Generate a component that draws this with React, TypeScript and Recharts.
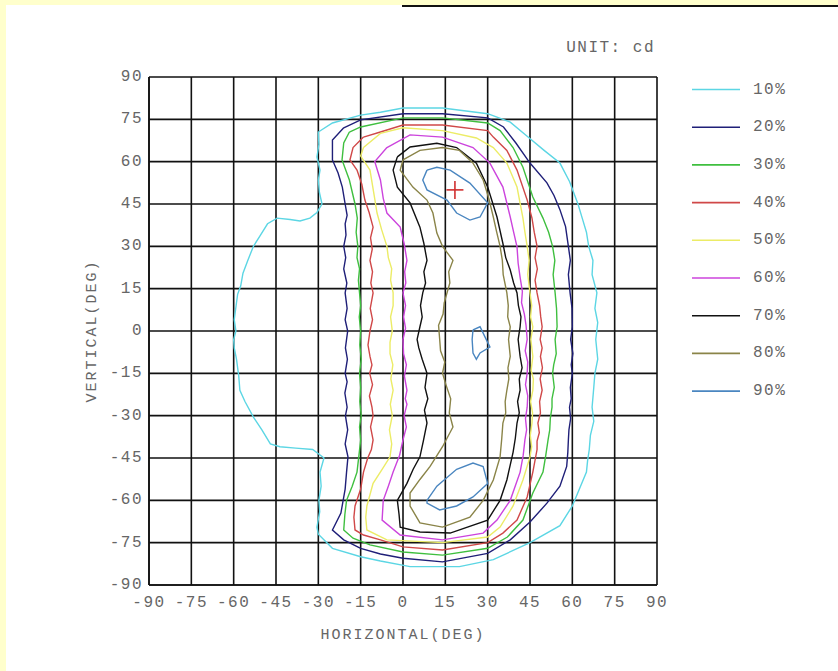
import React from 'react';
import { LineChart, Line, XAxis, YAxis, CartesianGrid, ReferenceDot } from 'recharts';

const TICKS = [-90, -75, -60, -45, -30, -15, 0, 15, 30, 45, 60, 75, 90];
const LEVELS = ['10%', '20%', '30%', '40%', '50%', '60%', '70%', '80%', '90%'];
const COLORS = ['#5cd6e4', '#1f1f78', '#3fbf3f', '#d04848', '#ecec66', '#cc44dd', '#111111', '#8a8448', '#4a86c0'];

// isocandela contours, [horizontal deg, vertical deg]
const c10 = [
  [-30, 70.5], [-25, 73.7], [-15, 76.5], [-8, 77.5], [0, 79], [14, 79], [30, 77], [38, 74], [44, 69], [50, 64],
  [55.6, 59.5], [59, 53], [62, 45], [63.5, 40], [65, 35], [65.8, 30], [67.3, 25], [67, 20], [68.7, 13.5], [68, 8],
  [69, 3], [68.3, -3], [69, -10], [68, -15], [67.6, -20], [67, -27], [67.6, -32], [66.4, -37], [66, -42],
  [65.4, -46], [65, -50], [62.5, -56], [60, -62], [55.6, -69], [45, -75], [32, -81], [20, -83.5], [2.5, -83.5],
  [-8, -81.5], [-15, -80], [-25, -77], [-30, -72], [-30.5, -69.5], [-29.5, -64], [-29.8, -60], [-29, -55],
  [-29.4, -50], [-28, -45], [-32, -42], [-38, -41.5], [-43.6, -41], [-47, -40], [-50, -35], [-53, -30.5],
  [-56, -25], [-57.8, -21], [-58.2, -16], [-59, -10], [-59.8, -6], [-60, -3], [-59.2, 0], [-59.8, 4], [-59, 10],
  [-58.6, 13], [-57.5, 16], [-56.7, 20.5], [-55, 25], [-53, 30], [-50.5, 34], [-48, 38], [-44.6, 40], [-40, 39.5],
  [-36.5, 39], [-33, 40], [-30.5, 42], [-28.7, 45], [-29.6, 49], [-30, 53.5], [-29.4, 57], [-30.5, 61.7],
  [-29.8, 66], [-30, 70.5],
];
const c20 = [
  [-21, 72], [-15, 74.8], [0, 77], [14, 77], [30, 75.5], [35.6, 72.3], [40, 66.6], [45, 59.5], [51, 52.5],
  [53.5, 48], [55.6, 43], [57.6, 37], [58.6, 30], [59.3, 25], [58.6, 20], [59.2, 13.5], [59.9, 8], [60, 1.5],
  [59.4, -3], [60.2, -8], [59.6, -12], [60, -15], [59.3, -20], [59.6, -24], [59, -27], [59.4, -31], [58.8, -35],
  [58.6, -38.6], [58.4, -43], [58, -48], [55.6, -55], [51, -61], [45, -67.7], [38, -74], [30, -78.8], [14, -81.8],
  [0, -80.5], [-8, -79], [-15, -77], [-21, -74], [-25, -70.5], [-22, -64.5], [-20.5, -56], [-20, -50],
  [-19.5, -44.6], [-20.5, -40], [-19.6, -35], [-20.4, -30], [-19.8, -27], [-20.6, -22], [-19.8, -18],
  [-20.5, -15], [-19.7, -10], [-20.4, -6], [-20, -3], [-19.6, 0], [-20.5, 4], [-19.8, 8], [-20.5, 13.5],
  [-19.9, 17], [-21, 22], [-20.3, 26], [-21, 30], [-20.2, 34], [-20.5, 38], [-19.8, 41], [-20.5, 45], [-21.5, 51],
  [-23, 56], [-25, 60.6], [-25, 67.7], [-21, 72],
];
const c30 = [
  [-19, 70.5], [-15, 72.3], [0, 75.5], [14, 75.5], [30, 73.7], [34.4, 71], [39, 65], [42.5, 58], [46, 47.5],
  [49.6, 40], [51.6, 35], [53, 30], [53.8, 25], [53.2, 20], [53.9, 13.5], [54.4, 8], [54.6, 1.5], [53.9, -3],
  [54.3, -8], [53.4, -12], [53, -15], [53.6, -20], [52.8, -24], [52.8, -27], [52.2, -31], [52, -35], [51.4, -38.6],
  [50.6, -44], [49.6, -50], [46, -57.4], [42.5, -67], [37, -73], [30, -77], [14, -79.4], [0, -78.3],
  [-11.7, -75.8], [-17.7, -73.4], [-21, -70.5], [-20.6, -65], [-20, -60], [-18, -55], [-16.3, -50], [-15.6, -44],
  [-15, -38.6], [-15.4, -34], [-14.8, -30], [-15.3, -25], [-15, -20], [-15.4, -15], [-14.8, -10], [-15.3, -5],
  [-15, 0], [-15.5, 5], [-15, 9], [-15.4, 13.5], [-15.8, 18], [-15.4, 22], [-16.3, 26], [-16, 30], [-16.6, 35],
  [-16.2, 40], [-17, 45], [-19, 53.5], [-21.6, 60.6], [-21, 66.6], [-19, 70.5],
];
const c40 = [
  [-14, 68.7], [-8, 70.5], [0, 73], [14, 73], [30, 71], [32, 68.7], [36.8, 64], [40.4, 57], [44, 46.4],
  [45.7, 40], [46.5, 35], [47.5, 30], [46.8, 26], [47.6, 22], [46.8, 18], [47.5, 13.5], [48.4, 9], [48.8, 5],
  [49.3, 1.5], [48.6, -3], [49.3, -6], [48.7, -9], [49.4, -13], [48.6, -17], [49.3, -21], [48.4, -25],
  [48.7, -29], [47.8, -32.6], [48.3, -36], [47.5, -39], [47.5, -42], [46, -50], [44, -58.8], [40.4, -67],
  [35.4, -71.6], [30, -75], [14, -77.6], [0, -76.5], [-8, -74], [-14, -72.3], [-17, -70.5], [-17.4, -66],
  [-17, -62], [-15, -56], [-14, -50], [-12.5, -45], [-11.2, -42], [-10.6, -38.6], [-11.5, -34], [-10.6, -30],
  [-11, -27], [-11.9, -23], [-10.8, -19], [-11.8, -15], [-11, -12], [-11.7, -9], [-12.4, -5], [-11.7, 0],
  [-10.8, 4], [-11.6, 8], [-10.6, 13.5], [-11.4, 17], [-10.8, 21], [-11.7, 25], [-10.9, 29], [-11.5, 33],
  [-10.6, 36.8], [-12, 42], [-13.5, 46.4], [-14.6, 52], [-16.3, 57], [-18.8, 60.6], [-17.7, 65], [-14, 68.7],
];
const c50 = [
  [-14, 65], [-8, 70], [0, 72], [14, 71], [26, 68.4], [32, 65], [36.8, 59.5], [40.4, 51], [42.5, 40], [43.2, 35],
  [44, 30], [44.7, 25], [44.2, 20], [45, 13.5], [45.6, 9], [45.2, 5], [46, 1.5], [45.3, -3], [46, -9], [45.4, -14],
  [46.2, -17], [46, -21], [45.2, -25], [45.9, -29], [45.7, -32.6], [45.1, -37], [45.6, -41], [45, -44.6],
  [42.5, -52.8], [39, -62], [34.4, -69.5], [30, -73], [14, -75], [-5.7, -74], [-12.8, -70.5], [-13.2, -66],
  [-12.8, -62], [-10.6, -54], [-7.4, -49], [-4.6, -44.6], [-4, -40], [-4.8, -35], [-3.8, -30], [-4.5, -26],
  [-3.5, -21], [-4.3, -17], [-3.6, -12], [-4.6, -8], [-4.6, -4], [-3.8, 0], [-4.4, 5], [-3.5, 9], [-3.5, 13.5],
  [-4.4, 18], [-4, 22], [-5.2, 26], [-5.7, 30], [-7.6, 36], [-9.2, 41.8], [-10.2, 48], [-11.7, 57], [-15, 62],
  [-14, 65],
];
const c60 = [
  [-5.7, 65], [2.5, 69.5], [14, 68.7], [24.8, 65], [30.8, 59.5], [35.4, 51], [38, 40.4], [39.2, 35], [40.4, 29.8],
  [40.8, 24], [41.5, 19], [42.3, 14], [42, 10], [43, 6], [43.6, 2], [44, -3], [43.3, -7], [44.2, -11], [44, -15],
  [43.4, -19], [44.2, -23], [44, -27], [43.4, -31], [43.8, -35], [43.2, -38.6], [42.6, -44], [41.5, -50],
  [38, -60], [33.3, -67], [28.4, -71.6], [14, -74], [-1, -72.3], [-7.4, -67], [-7, -60], [-5.2, -55],
  [-3.5, -50], [-1.2, -44], [0, -38.6], [1.2, -34], [0.4, -30], [1.4, -26], [0.8, -24], [1.4, -21], [0.5, -16],
  [1.2, -12], [0.2, -8], [0, -3], [0.9, 1], [0.2, 5], [0.9, 9], [0, 13.5], [1, 17], [0.6, 21], [1.4, 25], [0.4, 31],
  [-1, 36.8], [-5.7, 41.8], [-7, 47], [-8, 53.5], [-10, 60], [-5.7, 65],
];
const c70 = [
  [-2, 61.7], [2.5, 65.2], [12, 66.5], [19, 65], [26, 59.5], [30, 51], [33.3, 40.4], [35.4, 31], [36.4, 26],
  [38, 21.6], [39.2, 17], [40.4, 13.5], [40.9, 9], [41.8, 5], [41.5, 1.5], [40.8, -3], [41.5, -9], [42.2, -13],
  [41.2, -17], [41.5, -21], [40.6, -25], [41.2, -29], [40.4, -32.6], [39.8, -38], [39, -43], [36.8, -52.8],
  [34.4, -60], [30, -67], [16.7, -71.6], [6, -71.2], [-1, -69.5], [-1.4, -65], [-2, -60], [1.4, -54],
  [3.6, -49], [6, -44.6], [7.2, -39], [8.5, -32.6], [7.6, -28], [8.8, -24], [7.8, -20], [8.5, -15], [6.8, -10],
  [5.6, -6], [5, -3], [6, 1.5], [6.8, 5], [6.2, 9], [7, 13.5], [8, 17], [7.4, 21], [8.5, 25], [7.4, 31],
  [6, 36.8], [2.5, 45.4], [-2, 51], [-3.5, 57], [-2, 61.7],
];
const c80 = [
  [0, 60.6], [6, 64], [14, 65], [20, 64], [24.8, 59.5], [28.4, 53.5], [30.4, 47], [32, 40.4], [33.2, 35],
  [34.4, 30], [35.2, 25], [35.5, 20], [36.8, 13.5], [37.3, 9], [37.1, 5], [38, 1.5], [37.4, -3], [38, -9],
  [37.2, -13], [37.5, -17], [36.8, -21], [36.2, -25], [36.4, -29], [35.4, -32.6], [35, -38], [34.4, -44.6],
  [32, -52.8], [28.4, -60], [23.7, -66], [14, -69.5], [6, -68], [2.5, -62], [2.5, -57.4], [6, -52.6], [9.6, -48],
  [14, -41], [17.7, -34], [16.4, -29], [16.9, -24], [15.2, -19], [14, -15], [14.8, -11], [13.3, -7], [13, -3],
  [12.6, 2], [14.2, 6], [14.6, 10], [15.6, 13.5], [16.6, 17], [16.2, 21], [17.7, 25], [14, 30], [12, 34.7],
  [10.6, 41.8], [8.5, 46.4], [3.5, 51], [-1, 57], [0, 60.6],
];
const c90Top = [
  [8.5, 57], [12, 58], [16.7, 57], [23.7, 52.4], [30, 45.4], [27.3, 40.4], [23.7, 39.3], [19, 41.8], [15.6, 46.4],
  [8.5, 50], [7, 53.5], [8.5, 57],
];
const c90Mid = [
  [24.8, 0.4], [27.3, 1.5], [29, -2], [30.8, -5.7], [27.3, -7.8], [26, -10], [24.8, -7.8], [24.5, -3], [24.8, 0.4],
];
const c90Bottom = [
  [8.5, -60], [12, -55], [19, -49], [24.8, -46.8], [28.4, -48], [30, -54], [24.8, -58.8], [19, -62], [13, -63.4],
  [8.5, -61], [8.5, -60],
];

const RINGS = [[c10], [c20], [c30], [c40], [c50], [c60], [c70], [c80], [c90Top, c90Mid, c90Bottom]];
const PEAK = { x: 18.4, y: 50 };

const FONT = "'Liberation Mono', 'DejaVu Sans Mono', monospace";
const TEXT = '#666';

const toPoints = (ring: number[][]) => ring.map(([x, y]) => ({ x, y }));

const YTick = (props: any) => {
  const { x, y, payload } = props;
  return (
    <text x={x} y={y} textAnchor="end" dominantBaseline="central" fill={TEXT} fontFamily={FONT} fontSize={16} style={{ letterSpacing: 1.5 }}>
      {payload.value}
    </text>
  );
};

const XTick = (props: any) => {
  const { x, y, payload } = props;
  return (
    <text x={x} y={y} textAnchor="middle" dominantBaseline="central" fill={TEXT} fontFamily={FONT} fontSize={16} style={{ letterSpacing: 1.5 }}>
      {payload.value}
    </text>
  );
};

const Cross = (props: any) => {
  const { cx, cy } = props;
  return (
    <g stroke="#d03030" strokeWidth={1.6}>
      <line x1={cx - 8.5} y1={cy} x2={cx + 8.5} y2={cy} />
      <line x1={cx} y1={cy - 9} x2={cx} y2={cy + 9} />
    </g>
  );
};

export default function App() {
  return (
    <div style={{ position: 'absolute', left: 0, top: 0, width: 838, height: 671, background: '#ffffcc', overflow: 'hidden' }}>
      <div style={{ position: 'absolute', left: 6, top: 5, right: 0, bottom: 0, background: '#fff' }} />
      <div style={{ position: 'absolute', left: 402, top: 5, right: 0, height: 2, background: '#111' }} />
      <div style={{ position: 'absolute', left: 0, top: 0 }}>
        <LineChart width={838} height={671} margin={{ top: 77, right: 181, bottom: 46, left: 89 }}>
          <CartesianGrid stroke="#111" strokeWidth={1.6} strokeOpacity={1} horizontalValues={TICKS} verticalValues={TICKS} />
          <XAxis
            type="number"
            dataKey="x"
            domain={[-90, 90]}
            ticks={TICKS}
            interval={0}
            allowDataOverflow
            height={40}
            tickSize={0}
            tickMargin={18}
            tickLine={false}
            axisLine={{ stroke: '#111', strokeWidth: 1.6 }}
            tick={<XTick />}
          />
          <YAxis
            type="number"
            dataKey="y"
            domain={[-90, 90]}
            ticks={TICKS}
            interval={0}
            allowDataOverflow
            width={60}
            tickSize={0}
            tickMargin={6}
            tickLine={false}
            axisLine={{ stroke: '#111', strokeWidth: 1.6 }}
            tick={<YTick />}
          />
          {RINGS.map((rings, i) =>
            rings.map((ring, j) => (
              <Line
                key={`${LEVELS[i]}-${j}`}
                name={LEVELS[i]}
                data={toPoints(ring)}
                dataKey="y"
                type="linear"
                stroke={COLORS[i]}
                strokeWidth={1.4}
                dot={false}
                activeDot={false}
                isAnimationActive={false}
              />
            ))
          )}
          <ReferenceDot x={PEAK.x} y={PEAK.y} shape={<Cross />} />
        </LineChart>
      </div>
      <svg width={838} height={671} style={{ position: 'absolute', left: 0, top: 0, pointerEvents: 'none' }}>
        <text x={655} y={48} textAnchor="end" dominantBaseline="central" fill={TEXT} fontFamily={FONT} fontSize={16} style={{ letterSpacing: 1.5 }}>
          UNIT: cd
        </text>
        <text x={403} y={635} textAnchor="middle" dominantBaseline="central" fill={TEXT} fontFamily={FONT} fontSize={15} style={{ letterSpacing: 2 }}>
          HORIZONTAL(DEG)
        </text>
        <text x={92} y={331} textAnchor="middle" dominantBaseline="central" fill={TEXT} fontFamily={FONT} fontSize={15} style={{ letterSpacing: 2 }} transform="rotate(-90 92 331)">
          VERTICAL(DEG)
        </text>
        {LEVELS.map((lvl, i) => {
          const y = 89.5 + i * 37.7;
          return (
            <g key={lvl}>
              <line x1={692} y1={y} x2={740} y2={y} stroke={COLORS[i]} strokeWidth={1.6} />
              <text x={753} y={y} dominantBaseline="central" fill={TEXT} fontFamily={FONT} fontSize={16} style={{ letterSpacing: 1.5 }}>
                {lvl}
              </text>
            </g>
          );
        })}
      </svg>
    </div>
  );
}
